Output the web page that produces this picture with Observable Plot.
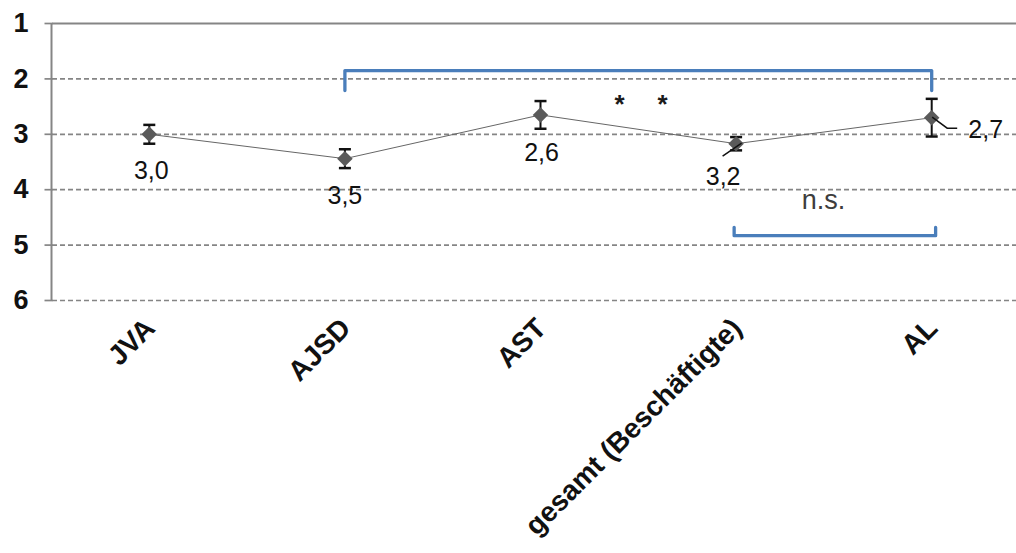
<!DOCTYPE html>
<html>
<head>
<meta charset="utf-8">
<script src="https://cdn.jsdelivr.net/npm/d3@7"></script>
<script src="https://cdn.jsdelivr.net/npm/@observablehq/plot@0.6"></script>
<style>
  html, body { margin: 0; padding: 0; background: white; }
  svg { display: block; }
</style>
</head>
<body>
<script>
// ---- data ----
const categories = ["JVA", "AJSD", "AST", "gesamt (Beschäftigte)", "AL"];
const means = [3.0, 3.44, 2.65, 3.17, 2.70];
const errors = [0.17, 0.17, 0.25, 0.12, 0.34];
const valueLabels = ["3,0", "3,5", "2,6", "3,2", "2,7"];
const yTicks = [1, 2, 3, 4, 5, 6];
// significance brackets (category index from/to, bar level, leg end level)
const bracketFrom = [1, 2.99];
const bracketTo = [4, 4.02];
const bracketLevel = [1.85, 4.83];
const bracketLeg = [2.21, 4.68];
const starX = [2.404, 2.624];
const starY = [2.34, 2.34];
const nsLabel = "n.s.";
const nsX = [3.447];
const nsY = [4.2];

// ---- layout (pixels, not data) ----
const labelOffsets = [[2, 37], [0, 37], [1, 38], [-13, 33], [54, 12]];
const leaders = { 3: [[6, 0], [-13, 13]], 4: [[1, 0], [16, 11], [26, 11]] };

const rows = categories.map((c, i) => ({i, c, m: means[i], lo: means[i] - errors[i], hi: means[i] + errors[i], label: valueLabels[i]}));

const bracketPts = [];
bracketFrom.forEach((f, k) => {
  bracketPts.push({k, x: f, y: bracketLeg[k]}, {k, x: f, y: bracketLevel[k]},
                  {k, x: bracketTo[k], y: bracketLevel[k]}, {k, x: bracketTo[k], y: bracketLeg[k]});
});

const capSymbol = {
  draw(ctx, size) { const r = Math.sqrt(size / Math.PI); ctx.moveTo(-r, 0); ctx.lineTo(r, 0); }
};
const leftTickSymbol = {
  draw(ctx, size) { const r = Math.sqrt(size / Math.PI); ctx.moveTo(-2 * r, 0); ctx.lineTo(0, 0); }
};

const gray = "#858585";
const blue = "#4a7ebb";

const labelMarks = rows.map((d, k) => Plot.text([d], {
  x: "i", y: "m", text: "label", dx: labelOffsets[k][0], dy: labelOffsets[k][1],
  fontSize: 25, fill: "#111", lineAnchor: "middle", ariaLabel: "datalabel"
}));

function leaderMark(index, scales) {
  const g = d3.create("svg:g");
  for (const [k, pts] of Object.entries(leaders)) {
    const px = scales.x(rows[k].i), py = scales.y(rows[k].m);
    g.append("path")
      .attr("d", "M" + pts.map(([dx, dy]) => (px + dx) + "," + (py + dy)).join("L"))
      .attr("fill", "none").attr("stroke", "#111").attr("stroke-width", 1.5);
  }
  return g.node();
}

const chart = Plot.plot({
  width: 1016, height: 553,
  marginLeft: 52, marginRight: 0, marginTop: 23, marginBottom: 253,
  x: {domain: [-0.5, 4.5], range: [51, 1029], axis: null},
  y: {domain: [1, 6], reverse: true, axis: null},
  style: {fontFamily: "'Liberation Sans', Arial, sans-serif", background: "white", overflow: "visible"},
  marks: [
    Plot.ruleY(yTicks.slice(1), {stroke: gray, strokeWidth: 1.7, strokeDasharray: "5,3"}),
    Plot.ruleY([yTicks[0]], {stroke: gray, strokeWidth: 2}),
    Plot.dot(yTicks, {y: d => d, frameAnchor: "left", symbol: leftTickSymbol, r: 4, stroke: gray, strokeWidth: 1.7}),
    Plot.text(yTicks, {y: d => d, text: d => String(d), frameAnchor: "left", textAnchor: "end", dx: -24,
      lineAnchor: "middle", fontSize: 27, fontWeight: "bold", fill: "#111"}),
    Plot.ruleX([-0.5], {y1: yTicks[0], y2: yTicks[yTicks.length - 1], stroke: gray, strokeWidth: 2}),
    Plot.line(bracketPts, {x: "x", y: "y", z: "k", stroke: blue, strokeWidth: 3.3, strokeLinejoin: "round", curve: "linear"}),
    Plot.line(rows, {x: "i", y: "m", stroke: "#666", strokeWidth: 1}),
    Plot.ruleX(rows, {x: "i", y1: "lo", y2: "hi", stroke: "#111", strokeWidth: 2}),
    Plot.dot(rows, {x: "i", y: "lo", symbol: capSymbol, r: 6, stroke: "#111", strokeWidth: 2.5}),
    Plot.dot(rows, {x: "i", y: "hi", symbol: capSymbol, r: 6, stroke: "#111", strokeWidth: 2.5}),
    Plot.dot(rows, {x: "i", y: "m", symbol: "diamond2", r: 7, fill: "#5a5a5a", stroke: "none"}),
    leaderMark,
    ...labelMarks,
    Plot.text(starX, {x: d => d, y: (d, k) => starY[k], text: () => "*", fontSize: 26, fontWeight: "bold", fill: "#1a1a1a", dy: 7}),
    Plot.text(nsX, {x: d => d, y: (d, k) => nsY[k], text: () => nsLabel, fontSize: 27, fill: "#3d3d3d"}),
    Plot.text(rows, {x: "i", frameAnchor: "bottom", text: "c", rotate: -45, textAnchor: "end",
      lineAnchor: "middle", dx: 1, dy: 23, fontSize: 28, fontWeight: "bold", fill: "#111"})
  ]
});

document.body.append(chart);

// white boxes behind value labels (as in the original chart)
d3.select(chart).selectAll('g[aria-label="datalabel"] text').each(function() {
  const b = this.getBBox();
  const padX = 10, padY = 5;
  const rect = document.createElementNS("http://www.w3.org/2000/svg", "rect");
  rect.setAttribute("x", b.x - padX);
  rect.setAttribute("y", b.y - padY);
  rect.setAttribute("width", b.width + 2 * padX);
  rect.setAttribute("height", b.height + 2 * padY);
  rect.setAttribute("fill", "white");
  const t = this.getAttribute("transform");
  if (t) rect.setAttribute("transform", t);
  this.parentNode.insertBefore(rect, this);
});
</script>
</body>
</html>
